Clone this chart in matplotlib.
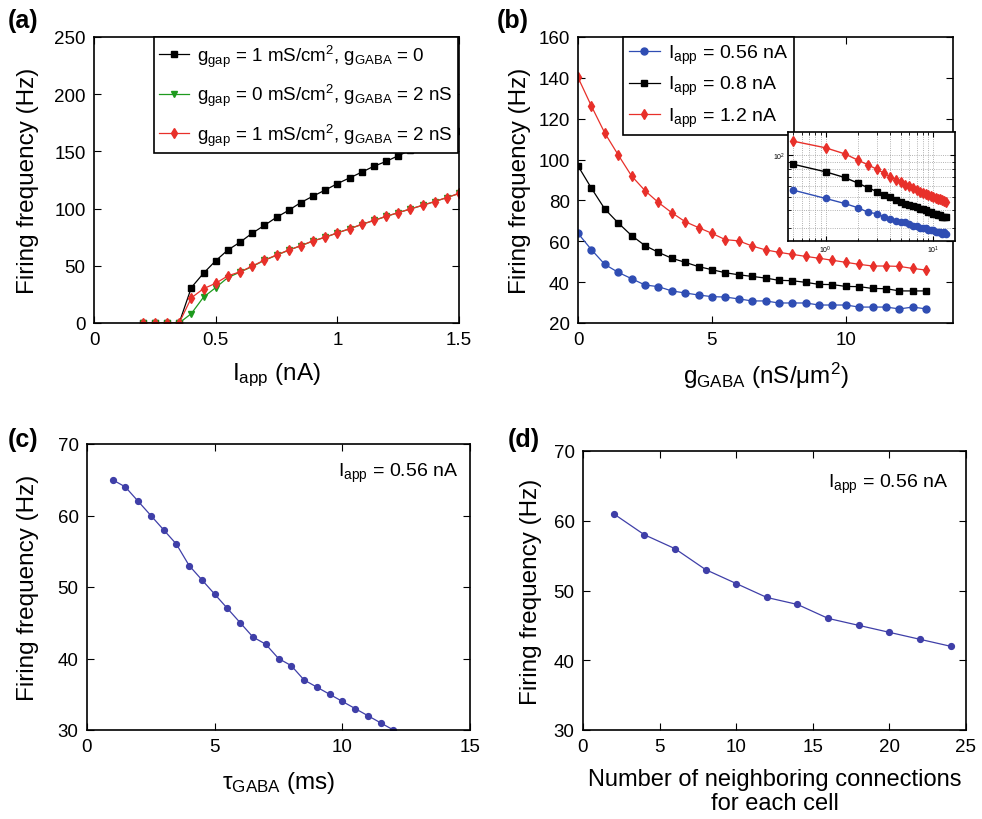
import matplotlib
matplotlib.use("Agg")
import matplotlib.pyplot as plt
import numpy as np

plt.rcParams['font.family'] = ['Liberation Sans', 'DejaVu Sans']
plt.rcParams['mathtext.fontset'] = 'custom'
plt.rcParams['mathtext.rm'] = 'Liberation Sans'
plt.rcParams['mathtext.it'] = 'Liberation Sans:italic'
plt.rcParams['mathtext.bf'] = 'Liberation Sans:bold'

# ---- data (a) ----
iapp = [0.2, 0.25, 0.3, 0.35, 0.4, 0.45, 0.5, 0.55, 0.6, 0.65, 0.7, 0.75, 0.8, 0.85,
        0.9, 0.95, 1.0, 1.05, 1.1, 1.15, 1.2, 1.25, 1.3, 1.35, 1.4, 1.45, 1.5]
f_gap_only = [0, 0, 0, 0, 31, 43.5, 54.4, 63.8, 70.6, 78.5, 85.3, 92.4, 98.5, 105.3,
              110.9, 116.2, 121.8, 126.8, 131.8, 137, 141.2, 146.2, 151, 155, 159.5, 163.5, 167.5]
f_gaba_only = [0, 0, 0, 0, 8.2, 22.6, 30.9, 39.7, 44.5, 49.3, 54.7, 59.2, 63.6, 67.5,
               71.6, 74.9, 78.7, 82.3, 86.1, 89.6, 93.1, 96.4, 99.6, 102.8, 106.1, 109.6, 113.2]
f_both = [0, 0, 0, 0, 22, 30, 34.7, 41.2, 44.7, 49.7, 55, 59.4, 63.8, 67.6,
          71.8, 75, 78.8, 82.4, 86.2, 89.7, 93.2, 96.5, 99.7, 102.9, 106.2, 109.7, 113.2]

# ---- data (b) ----
ggaba = [0, 0.5, 1, 1.5, 2, 2.5, 3, 3.5, 4, 4.5, 5, 5.5, 6, 6.5, 7, 7.5, 8, 8.5,
         9, 9.5, 10, 10.5, 11, 11.5, 12, 12.5, 13]
f_056 = [63.9, 55.9, 48.7, 44.8, 41.7, 38.6, 37.8, 35.7, 34.7, 33.7, 32.9, 32.7, 31.8, 30.8,
         30.8, 29.8, 29.8, 29.8, 28.8, 28.8, 28.8, 27.8, 27.8, 27.8, 26.9, 27.8, 26.9]
f_08 = [96.9, 86, 75.8, 69, 62.8, 57.9, 54.6, 51.7, 49.7, 47.6, 46.1, 44.6, 43.6, 42.8,
        42, 40.9, 40.7, 39.9, 38.9, 38.8, 37.9, 37.8, 36.9, 36.8, 35.7, 35.7, 35.7]
f_12 = [140.2, 126.2, 113, 102.3, 92, 84.8, 79, 74, 69.6, 66.7, 63.9, 60.8, 60.2, 57.7,
        55.8, 54.6, 53.6, 52.6, 51.7, 50.7, 49.7, 48.7, 47.9, 47.9, 47.7, 46.7, 45.9]

# ---- data (c) ----
tau = [1, 1.5, 2, 2.5, 3, 3.5, 4, 4.5, 5, 5.5, 6, 6.5, 7, 7.5, 8, 8.5, 9, 9.5,
       10, 10.5, 11, 11.5, 12]
f_tau = [65, 64, 62, 60, 58, 56, 53, 51, 49, 47, 45, 43, 42, 40, 39, 37, 36, 35,
         34, 33, 32, 31, 30]

# ---- data (d) ----
nconn = [2, 4, 6, 8, 10, 12, 14, 16, 18, 20, 22, 24]
f_conn = [61, 58, 56, 53, 51, 49, 48, 46, 45, 44, 43, 42]

W, H = 982, 820
fig = plt.figure(figsize=(W / 100, H / 100), dpi=100)

def box(l, t, r, b):
    return [l / W, (H - b) / H, (r - l) / W, (b - t) / H]

def style(ax):
    ax.tick_params(direction='in', top=True, right=True, length=5, width=0.8,
                   labelsize=13.5, pad=6)
    for s in ax.spines.values():
        s.set_linewidth(1.2)

def ylabel_at(ax, l, r, px):
    # px = right edge (towards the axis) of the rotated y label, in figure pixels
    ax.set_ylabel(ylab, fontsize=labfs)
    ax.yaxis.set_label_coords((px - l) / (r - l), 0.5)

ylab = 'Firing frequency (Hz)'
labfs = 17.5

# (a)
ax = fig.add_axes(box(94, 38, 459, 324))
ax.plot(iapp, f_gap_only, '-s', color='black', ms=3.8, lw=0.9,
        label=r'$\mathregular{g_{gap}}$ = 1 mS/cm$^{\mathregular{2}}$, $\mathregular{g_{GABA}}$ = 0')
ax.plot(iapp, f_gaba_only, '-v', color='#1e9a1e', ms=4.8, lw=0.9,
        label=r'$\mathregular{g_{gap}}$ = 0 mS/cm$^{\mathregular{2}}$, $\mathregular{g_{GABA}}$ = 2 nS')
ax.plot(iapp, f_both, '-d', color='#e8302a', ms=5.2, lw=0.9,
        label=r'$\mathregular{g_{gap}}$ = 1 mS/cm$^{\mathregular{2}}$, $\mathregular{g_{GABA}}$ = 2 nS')
ax.set_xlim(0, 1.5)
ax.set_ylim(0, 250)
ax.set_xticks([0, 0.5, 1, 1.5])
ax.set_xticklabels(['0', '0.5', '1', '1.5'])
style(ax)
ylabel_at(ax, 94, 459, 39)
ax.set_xlabel(r'$\mathregular{I_{app}}$ (nA)', fontsize=labfs, labelpad=9)
leg = ax.legend(loc='upper right', fontsize=13.5, fancybox=False, edgecolor='black',
                framealpha=1, borderaxespad=0.0, handlelength=1.6, handletextpad=0.4,
                labelspacing=0.7, borderpad=0.3, bbox_to_anchor=(0.997, 1.0))
leg.get_frame().set_linewidth(1.2)

# (b)
ax = fig.add_axes(box(578, 38, 953, 324))
ax.plot(ggaba, f_056, '-o', color='#2f4db3', ms=5, lw=0.9, label=r'$\mathregular{I_{app}}$ = 0.56 nA')
ax.plot(ggaba, f_08, '-s', color='black', ms=4.5, lw=0.9, label=r'$\mathregular{I_{app}}$ = 0.8 nA')
ax.plot(ggaba, f_12, '-d', color='#e8302a', ms=5.5, lw=0.9, label=r'$\mathregular{I_{app}}$ = 1.2 nA')
ax.set_xlim(0, 14)
ax.set_ylim(20, 160)
ax.set_xticks([0, 5, 10])
style(ax)
ylabel_at(ax, 578, 953, 531)
ax.set_xlabel(r'$\mathregular{g_{GABA}}$ (nS/μm$^{\mathregular{2}}$)', fontsize=labfs, labelpad=8)
leg = ax.legend(loc='upper left', fontsize=14, fancybox=False, edgecolor='black',
                framealpha=1, borderaxespad=0.0, handlelength=1.6, handletextpad=0.4,
                labelspacing=0.42, borderpad=0.3, bbox_to_anchor=(0.12, 1.0))
leg.get_frame().set_linewidth(1.2)

# inset
ins = fig.add_axes(box(788, 133, 955, 242))
ins.loglog(ggaba[1:], f_056[1:], '-o', color='#2f4db3', ms=4.5, lw=1.0)
ins.loglog(ggaba[1:], f_08[1:], '-s', color='black', ms=4, lw=1.0)
ins.loglog(ggaba[1:], f_12[1:], '-d', color='#e8302a', ms=5, lw=1.0)
ins.set_xlim(0.447, 15.9)
ins.set_ylim(24, 147)
ins.grid(True, which='both', linestyle=':', linewidth=0.6, color='#999999')
ins.tick_params(which='both', direction='in', top=True, right=True, labelsize=5, pad=2)
ins.tick_params(which='minor', labelleft=False, labelbottom=False)
for s in ins.spines.values():
    s.set_linewidth(1.2)

# (c)
ax = fig.add_axes(box(87, 445, 470, 731))
ax.plot(tau, f_tau, '-o', color='#3f3fa8', ms=4.2, lw=0.9)
ax.set_xlim(0, 15)
ax.set_ylim(30, 70)
ax.set_xticks([0, 5, 10, 15])
ax.set_yticks([30, 40, 50, 60, 70])
style(ax)
ylabel_at(ax, 87, 470, 39)
ax.set_xlabel(r'$\mathregular{\tau_{GABA}}$ (ms)', fontsize=labfs, labelpad=10)
ax.text(0.97, 0.9, r'$\mathregular{I_{app}}$ = 0.56 nA', transform=ax.transAxes,
        ha='right', va='center', fontsize=14)

# (d)
ax = fig.add_axes(box(583, 452, 966, 731))
ax.plot(nconn, f_conn, '-o', color='#3f3fa8', ms=4.2, lw=0.9)
ax.set_xlim(0, 25)
ax.set_ylim(30, 70)
ax.set_xticks([0, 5, 10, 15, 20, 25])
ax.set_yticks([30, 40, 50, 60, 70])
style(ax)
ylabel_at(ax, 583, 966, 542)
ax.set_xlabel('Number of neighboring connections\nfor each cell', fontsize=17, labelpad=9,
              linespacing=1.15)
ax.text(0.955, 0.885, r'$\mathregular{I_{app}}$ = 0.56 nA', transform=ax.transAxes,
        ha='right', va='center', fontsize=14)

# panel letters
for lbl, px, py in [('(a)', 8, 21), ('(b)', 497, 21), ('(c)', 8, 440), ('(d)', 508, 440)]:
    fig.text(px / W, 1 - py / H, lbl, fontsize=18, fontweight='bold', va='center', ha='left')

fig.savefig('out.png', dpi=100)
